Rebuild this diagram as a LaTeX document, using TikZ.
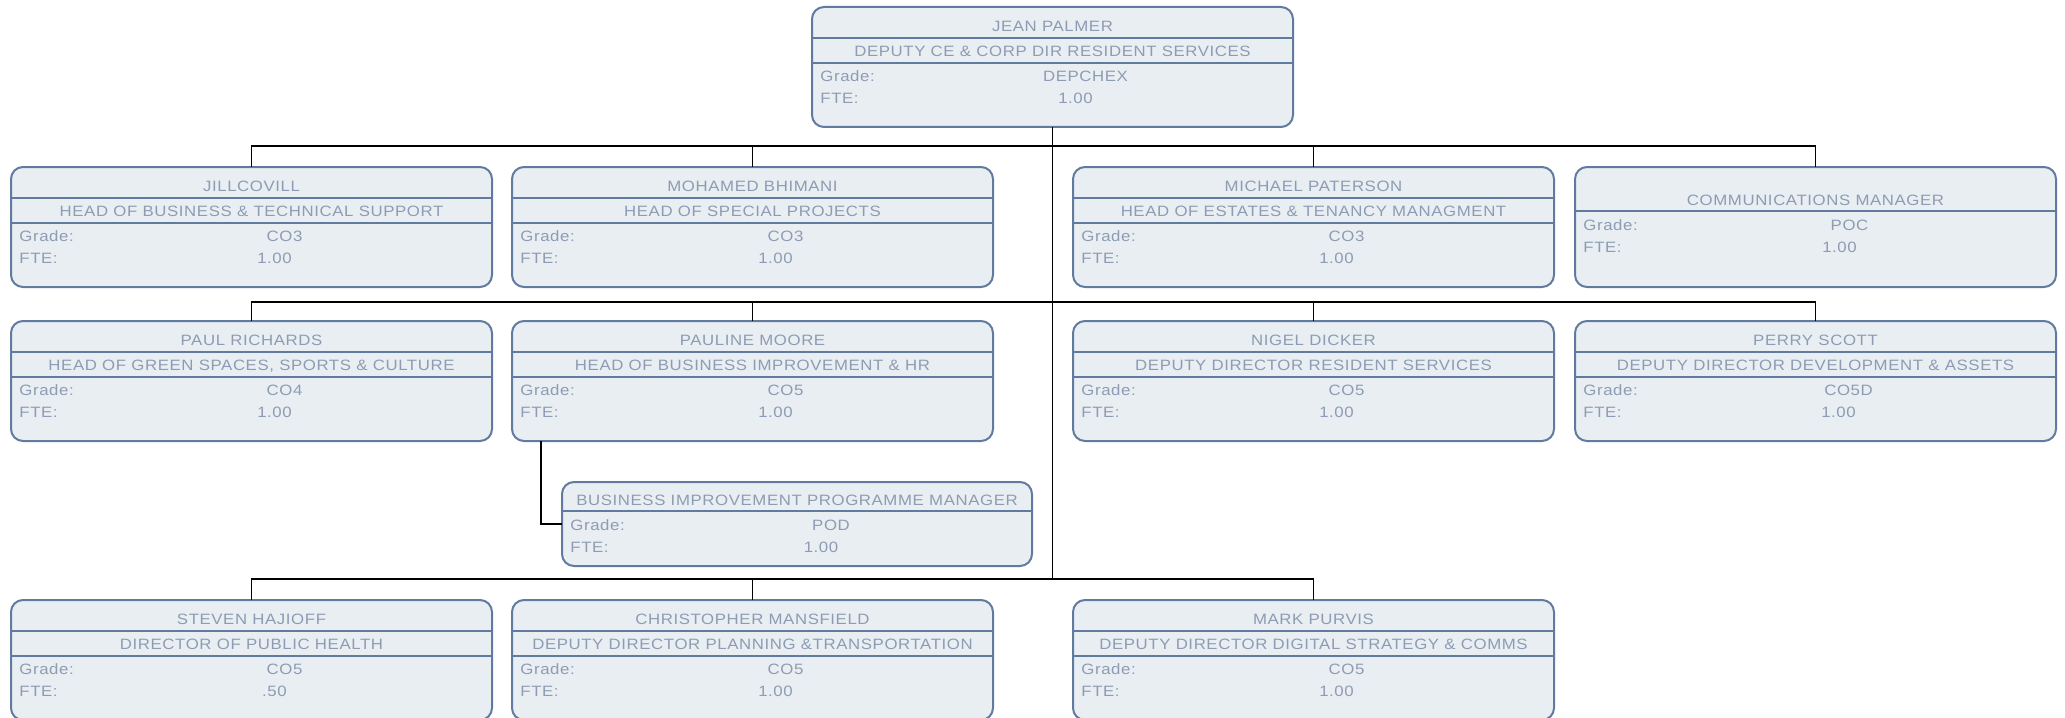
\documentclass[tikz,border=0pt]{standalone}
\usepackage{fontspec}
\newfontfamily\cardfont{Liberation Sans}[FakeStretch=1.12, LetterSpace=4]
\definecolor{cardline}{HTML}{617BA0}
\definecolor{cardfill}{HTML}{E9EEF2}
\definecolor{cardtext}{HTML}{8D9CB3}
\tikzset{
  card/.style={draw=cardline, fill=cardfill, line width=1pt, rounded corners=6pt,
    minimum width=240.5pt, minimum height=60pt, anchor=north, inner sep=0pt, outer sep=0pt},
  divider/.style={draw=cardline, line width=1pt},
  txt/.style={text=cardtext, font=\cardfont\fontsize{7.5}{9}\selectfont,
    inner sep=0pt, text height=5.4pt, text depth=0pt},
  link/.style={draw=black, line width=0.7pt},
}
% card with person, post, grade and fte
\newcommand{\staffcard}[6]{%
  \node[card] (#1) at (#2) {};
  \draw[divider] ([yshift=-15.5pt]#1.north west) -- ([yshift=-15.5pt]#1.north east);
  \draw[divider] ([yshift=-28pt]#1.north west) -- ([yshift=-28pt]#1.north east);
  \node[txt] (#1-name) at ([yshift=-9.5pt]#1.north) {#3};
  \node[txt] (#1-post) at ([yshift=-22pt]#1.north) {#4};
  \node[txt, anchor=west] (#1-gl) at ([xshift=4pt,yshift=-34.5pt]#1.north west) {Grade:};
  \node[txt, anchor=west] (#1-fl) at ([xshift=4pt,yshift=-45.5pt]#1.north west) {FTE:};
  \node[txt] (#1-gv) at ([xshift=16.5pt,yshift=-34.5pt]#1.north) {#5};
  \node[txt] (#1-fv) at ([xshift=11.5pt,yshift=-45.5pt]#1.north) {#6};
}
% card for a post with nobody named
\newcommand{\vacantcard}[8]{%
  \node[card, minimum width=#3, minimum height=#4] (#1) at (#2) {};
  \draw[divider] ([yshift={-(#5+5.25pt)}]#1.north west) -- ([yshift={-(#5+5.25pt)}]#1.north east);
  \node[txt] (#1-post) at ([yshift=-#5]#1.north) {#6};
  \node[txt, anchor=west] (#1-gl) at ([xshift=4pt,yshift={-(#5+12.5pt)}]#1.north west) {Grade:};
  \node[txt, anchor=west] (#1-fl) at ([xshift=4pt,yshift={-(#5+23.5pt)}]#1.north west) {FTE:};
  \node[txt] (#1-gv) at ([xshift=17pt,yshift={-(#5+12.5pt)}]#1.north) {#7};
  \node[txt] (#1-fv) at ([xshift=12pt,yshift={-(#5+23.5pt)}]#1.north) {#8};
}
\begin{document}
\begin{tikzpicture}[x=0.5pt, y=-0.5pt]
  \useasboundingbox (0,0) rectangle (2065,717);
  \coordinate (bus1) at (0,146);
  \coordinate (bus2) at (0,302);
  \coordinate (bus3) at (0,579);

  \staffcard{dep}{1052.5,7}{JEAN PALMER}{DEPUTY CE \& CORP DIR RESIDENT SERVICES}{DEPCHEX}{1.00}

  \staffcard{jill}{251.5,167}{JILLCOVILL}{HEAD OF BUSINESS \& TECHNICAL SUPPORT}{CO3}{1.00}
  \staffcard{mohamed}{752.5,167}{MOHAMED BHIMANI}{HEAD OF SPECIAL PROJECTS}{CO3}{1.00}
  \staffcard{michael}{1313.5,167}{MICHAEL PATERSON}{HEAD OF ESTATES \& TENANCY MANAGMENT}{CO3}{1.00}
  \vacantcard{comms}{1815.5,167}{240.5pt}{60pt}{16.5pt}{COMMUNICATIONS MANAGER}{POC}{1.00}

  \staffcard{paul}{251.5,321}{PAUL RICHARDS}{HEAD OF GREEN SPACES, SPORTS \& CULTURE}{CO4}{1.00}
  \staffcard{pauline}{752.5,321}{PAULINE MOORE}{HEAD OF BUSINESS IMPROVEMENT \& HR}{CO5}{1.00}
  \staffcard{nigel}{1313.5,321}{NIGEL DICKER}{DEPUTY DIRECTOR RESIDENT SERVICES}{CO5}{1.00}
  \staffcard{perry}{1815.5,321}{PERRY SCOTT}{DEPUTY DIRECTOR DEVELOPMENT \& ASSETS}{CO5D}{1.00}

  \vacantcard{bimgr}{797,482}{235pt}{42pt}{9pt}{BUSINESS IMPROVEMENT PROGRAMME MANAGER}{POD}{1.00}

  \staffcard{steven}{251.5,600}{STEVEN HAJIOFF}{DIRECTOR OF PUBLIC HEALTH}{CO5}{.50}
  \staffcard{chris}{752.5,600}{CHRISTOPHER MANSFIELD}{DEPUTY DIRECTOR PLANNING \&TRANSPORTATION}{CO5}{1.00}
  \staffcard{mark}{1313.5,600}{MARK PURVIS}{DEPUTY DIRECTOR DIGITAL STRATEGY \& COMMS}{CO5}{1.00}

  \begin{scope}[link]
    \draw (dep.south) -- (dep.south |- bus3);
    \draw (dep.south |- bus1) -| (jill.north);
    \draw (dep.south |- bus1) -| (mohamed.north);
    \draw (dep.south |- bus1) -| (michael.north);
    \draw (dep.south |- bus1) -| (comms.north);
    \draw (dep.south |- bus2) -| (paul.north);
    \draw (dep.south |- bus2) -| (pauline.north);
    \draw (dep.south |- bus2) -| (nigel.north);
    \draw (dep.south |- bus2) -| (perry.north);
    \draw ([xshift=14.5pt]pauline.south west) |- (bimgr.west);
    \draw (dep.south |- bus3) -| (steven.north);
    \draw (dep.south |- bus3) -| (chris.north);
    \draw (dep.south |- bus3) -| (mark.north);
  \end{scope}
\end{tikzpicture}
\end{document}
